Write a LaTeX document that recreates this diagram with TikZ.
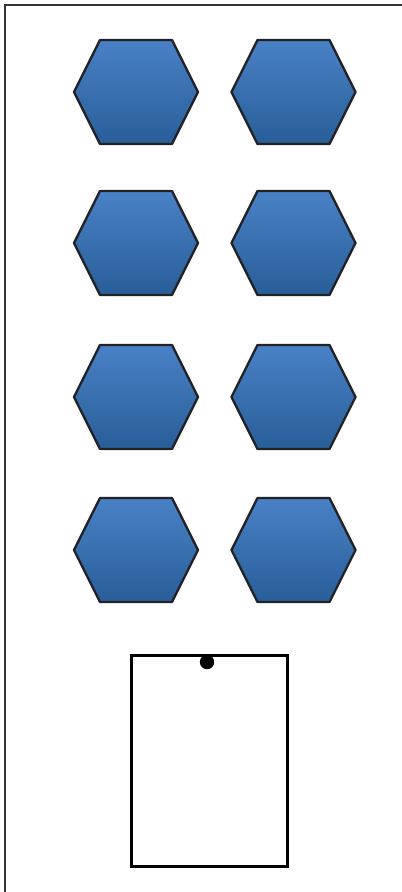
\documentclass[tikz,border=0pt]{standalone}
\usepackage{tikz}

\definecolor{hexTop}{RGB}{72,129,198}
\definecolor{hexBot}{RGB}{40,94,152}
\definecolor{hexLine}{RGB}{34,34,38}

\begin{document}
\begin{tikzpicture}[
  x=0.025cm, y=-0.025cm,
  hex/.style={draw=hexLine,line width=1.6pt,line join=round,
              top color=hexTop,bottom color=hexBot},
  frame/.style={draw=black!80,line width=1.8pt},
  board/.style={draw,line width=2.6pt,minimum width=3.9cm,minimum height=5.28cm,
                inner sep=0pt,fill=white},
  pin/.style={circle,fill,inner sep=0pt,minimum size=0.36cm}
]
\useasboundingbox (0,0) rectangle (401,892);
% outer frame, cut at right and bottom
\draw[frame] (5,5) rectangle (410,900);
% hexagon grid
\foreach \cy in {92,243,397,550}{
  \foreach \cx in {136,293.5}{
    \draw[hex] (\cx-62,\cy) -- (\cx-36,\cy-52) -- (\cx+36,\cy-52)
      -- (\cx+62,\cy) -- (\cx+36,\cy+52) -- (\cx-36,\cy+52) -- cycle;
  }
}
% box with the dot
\node[board] (box) at (209.5,761) {};
\node[pin] (dot) at (207,662) {};
\end{tikzpicture}
\end{document}
